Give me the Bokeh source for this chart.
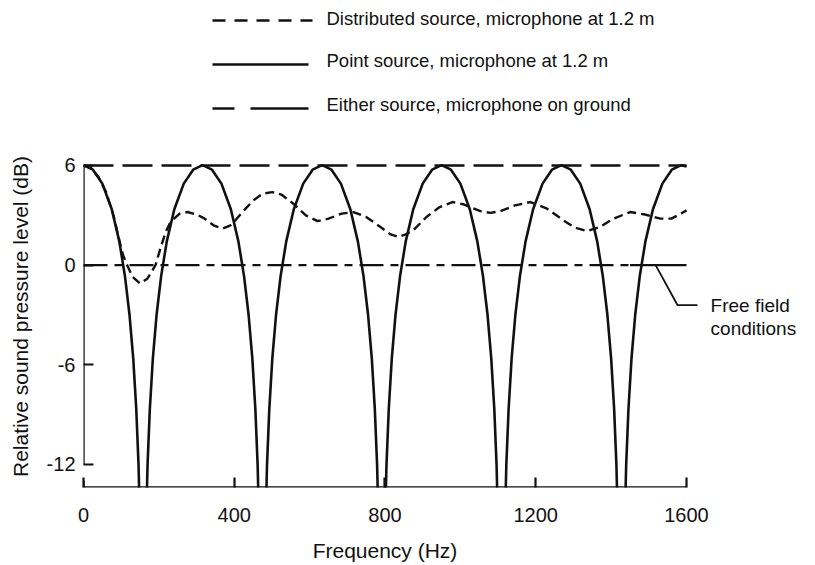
from bokeh.plotting import figure
from bokeh.models import Range1d, FixedTicker
from bokeh.layouts import column
from bokeh.embed import file_html
from bokeh.resources import INLINE
from bokeh.core.properties import value

FONT = "Liberation Sans"
INK = "#111111"

# ---------------- data ----------------
x_ticks = [0, 400, 800, 1200, 1600]
y_ticks = [-12, -6, 0, 6]
y_tick_labels = {-12: "-12", -6: "-6", 0: "0", 6: "6"}
x_title = "Frequency (Hz)"
y_title = "Relative sound pressure level (dB)"

legend_labels = [
    "Distributed source, microphone at 1.2 m",
    "Point source, microphone at 1.2 m",
    "Either source, microphone on ground",
]
annotation_lines = ["Free field", "conditions"]

# point source, microphone at 1.2 m (one list per arch between nulls)
point_f = [
    [0, 25, 50, 75, 95, 110, 122, 132, 140, 146, 152],
    [164, 170, 176, 184, 194, 206, 221, 241, 266, 291, 316, 341, 366, 391, 411, 426, 438, 448, 456, 462, 468],
    [481, 487, 493, 501, 511, 523, 538, 558, 583, 608, 633, 658, 683, 708, 728, 743, 755, 765, 773, 779, 785],
    [798, 804, 810, 818, 828, 840, 855, 875, 900, 925, 950, 975, 1000, 1025, 1045, 1060, 1072, 1082, 1090, 1096, 1102],
    [1116, 1122, 1128, 1136, 1146, 1158, 1173, 1193, 1218, 1243, 1268, 1293, 1318, 1343, 1363, 1378, 1390, 1400, 1408, 1414, 1420],
    [1434, 1440, 1446, 1454, 1464, 1476, 1491, 1511, 1536, 1561, 1586, 1600],
]
point_db = [
    [6.02, 5.75, 4.91, 3.37, 1.43, -0.66, -2.97, -5.63, -8.66, -11.99, -17.5],
    [-17.5, -11.99, -8.66, -5.63, -2.97, -0.66, 1.43, 3.37, 4.91, 5.75, 6.02, 5.75, 4.91, 3.37, 1.43, -0.66, -2.97, -5.63, -8.66, -11.99, -17.5],
    [-17.5, -11.99, -8.66, -5.63, -2.97, -0.66, 1.43, 3.37, 4.91, 5.75, 6.02, 5.75, 4.91, 3.37, 1.43, -0.66, -2.97, -5.63, -8.66, -11.99, -17.5],
    [-17.5, -11.99, -8.66, -5.63, -2.97, -0.66, 1.43, 3.37, 4.91, 5.75, 6.02, 5.75, 4.91, 3.37, 1.43, -0.66, -2.97, -5.63, -8.66, -11.99, -17.5],
    [-17.5, -11.99, -8.66, -5.63, -2.97, -0.66, 1.43, 3.37, 4.91, 5.75, 6.02, 5.75, 4.91, 3.37, 1.43, -0.66, -2.97, -5.63, -8.66, -11.99, -17.5],
    [-17.5, -11.99, -8.66, -5.63, -2.97, -0.66, 1.43, 3.37, 4.91, 5.75, 6.02, 5.94],
]

# distributed source, microphone at 1.2 m
dist_f = [0, 20, 40, 60, 80, 95, 105, 116, 130, 150,
          170, 191, 204, 218, 231, 255, 276, 300, 318, 345,
          369, 390, 403, 430, 451, 475, 501, 525, 557, 590,
          621, 650, 685, 716, 750, 788, 815, 836, 855, 875,
          910, 945, 979, 1010, 1053, 1080, 1106, 1145, 1186, 1230,
          1273, 1305, 1337, 1370, 1406, 1451, 1490, 1530, 1560, 1585,
          1600]
dist_db = [6.0, 5.85, 5.3, 4.4, 2.95, 1.5, 0.6, 0.0, -0.7, -1.1,
           -0.8, 0.0, 1.0, 2.0, 2.6, 3.1, 3.2, 3.05, 2.85, 2.4,
           2.2, 2.4, 2.7, 3.4, 3.9, 4.3, 4.4, 4.25, 3.7, 3.0,
           2.65, 2.8, 3.1, 3.2, 2.9, 2.3, 1.85, 1.7, 1.85, 2.1,
           2.9, 3.5, 3.8, 3.65, 3.25, 3.15, 3.25, 3.6, 3.8, 3.4,
           2.7, 2.25, 2.05, 2.3, 2.8, 3.2, 3.05, 2.8, 2.8, 3.1,
           3.3]

# either source, microphone on ground
ground_f = [0, 1600]
ground_db = [6, 6]

# free field conditions
free_f = [0, 1600]
free_db = [0, 0]

# ---------------- layout constants (screen px) ----------------
W = 812
TOP_H = 145
MAIN_H = 387
TITLE_H = 30
FRAME_L, FRAME_R = 83, 802

# ---------------- legend figure (top) ----------------
# the column aligns this frame with the main frame (FRAME_L..FRAME_R),
# so x data == screen x here
leg = figure(width=W, height=TOP_H, output_backend="svg", toolbar_location=None,
             x_range=Range1d(FRAME_L, FRAME_R), y_range=Range1d(0, TOP_H),
             x_axis_location=None, y_axis_location=None,
             min_border=0, outline_line_color=None)
leg.grid.visible = False

row_y = [125, 81, 37]        # sample line positions (px from bottom of legend strip)
txt_y = [127, 85, 41]
leg.line([212, 312], [row_y[0], row_y[0]], line_color=INK, line_width=2.6, line_dash="13 9")
leg.line([212, 308], [row_y[1], row_y[1]], line_color=INK, line_width=2.4)
leg.multi_line([[212, 234], [250, 308]], [[row_y[2], row_y[2]], [row_y[2], row_y[2]]],
               line_color=INK, line_width=2.4)
leg.text(x=[326, 326, 326], y=txt_y, text=legend_labels,
         text_font=value(FONT), text_font_size="18.5px", text_color=INK,
         text_baseline="middle", text_align="left")

# ---------------- main figure ----------------
y_lo, y_hi = -13.385, 7.204
x_lo, x_hi = 0, 1907.8

p = figure(width=W, height=MAIN_H, output_backend="svg", toolbar_location=None,
           x_range=Range1d(x_lo, x_hi), y_range=Range1d(y_lo, y_hi),
           min_border_left=FRAME_L, min_border_right=W - FRAME_R,
           min_border_top=0, min_border_bottom=45,
           outline_line_color=None)
p.grid.visible = False

p.xaxis.ticker = FixedTicker(ticks=x_ticks)
p.yaxis.ticker = FixedTicker(ticks=y_ticks)
p.yaxis.major_label_overrides = y_tick_labels
for ax in (p.xaxis[0], p.yaxis[0]):
    ax.axis_line_color = None
    ax.major_tick_in = 10
    ax.major_tick_out = 0
    ax.minor_tick_line_color = None
    ax.major_tick_line_width = 2.2
    ax.major_tick_line_color = INK
    ax.major_label_text_font = FONT
    ax.major_label_text_font_size = "20px"
    ax.major_label_text_color = INK
    ax.axis_label_text_font = FONT
    ax.axis_label_text_font_size = "21px"
    ax.axis_label_text_font_style = "normal"
    ax.axis_label_text_color = INK
p.yaxis.axis_label = y_title
p.xaxis.major_label_standoff = 20
p.yaxis.major_label_standoff = 8
p.yaxis.axis_label_standoff = 12

# axis lines drawn over data range (left axis broken below -12)
p.line([x_ticks[0], x_ticks[0]], [y_ticks[0], y_ticks[-1]], line_color=INK, line_width=2.4)
p.line([x_ticks[0], x_ticks[0]], [y_lo, y_lo + 0.4], line_color=INK, line_width=2.4)
p.line([x_ticks[0], x_ticks[-1]], [y_lo, y_lo], line_color=INK, line_width=2.6)

# reference lines
p.line(ground_f, ground_db, line_color=INK, line_width=2.4, line_dash="30 9")
p.line([free_f[0], 1450], free_db, line_color=INK, line_width=2.2, line_dash="24 7 8 7")
p.line([1450, free_f[1]], free_db, line_color=INK, line_width=2.2)

# curves
p.multi_line(point_f, point_db, line_color=INK, line_width=2.6)
p.line(dist_f, dist_db, line_color=INK, line_width=2.4, line_dash="9 5")

# annotation
p.line([1518, 1576, 1629], [0, -2.4, -2.4], line_color=INK, line_width=1.8)
p.text(x=[1664, 1664], y=[-2.4, -3.8], text=annotation_lines,
       text_font=value(FONT), text_font_size="19px", text_color=INK,
       text_baseline="middle", text_align="left")

# ---------------- x-axis title strip (bottom), shares the main x scale ----------------
tt = figure(width=W, height=TITLE_H, output_backend="svg", toolbar_location=None,
            x_range=p.x_range, y_range=Range1d(0, TITLE_H),
            x_axis_location=None, y_axis_location=None,
            min_border=0, outline_line_color=None)
tt.grid.visible = False
tt.text(x=[(x_ticks[0] + x_ticks[-1]) / 2], y=[12], text=[x_title],
        text_font=value(FONT), text_font_size="21px", text_color=INK,
        text_baseline="middle", text_align="center")

layout = column(leg, p, tt, spacing=0)
open("out.html", "w").write(file_html(layout, INLINE))
